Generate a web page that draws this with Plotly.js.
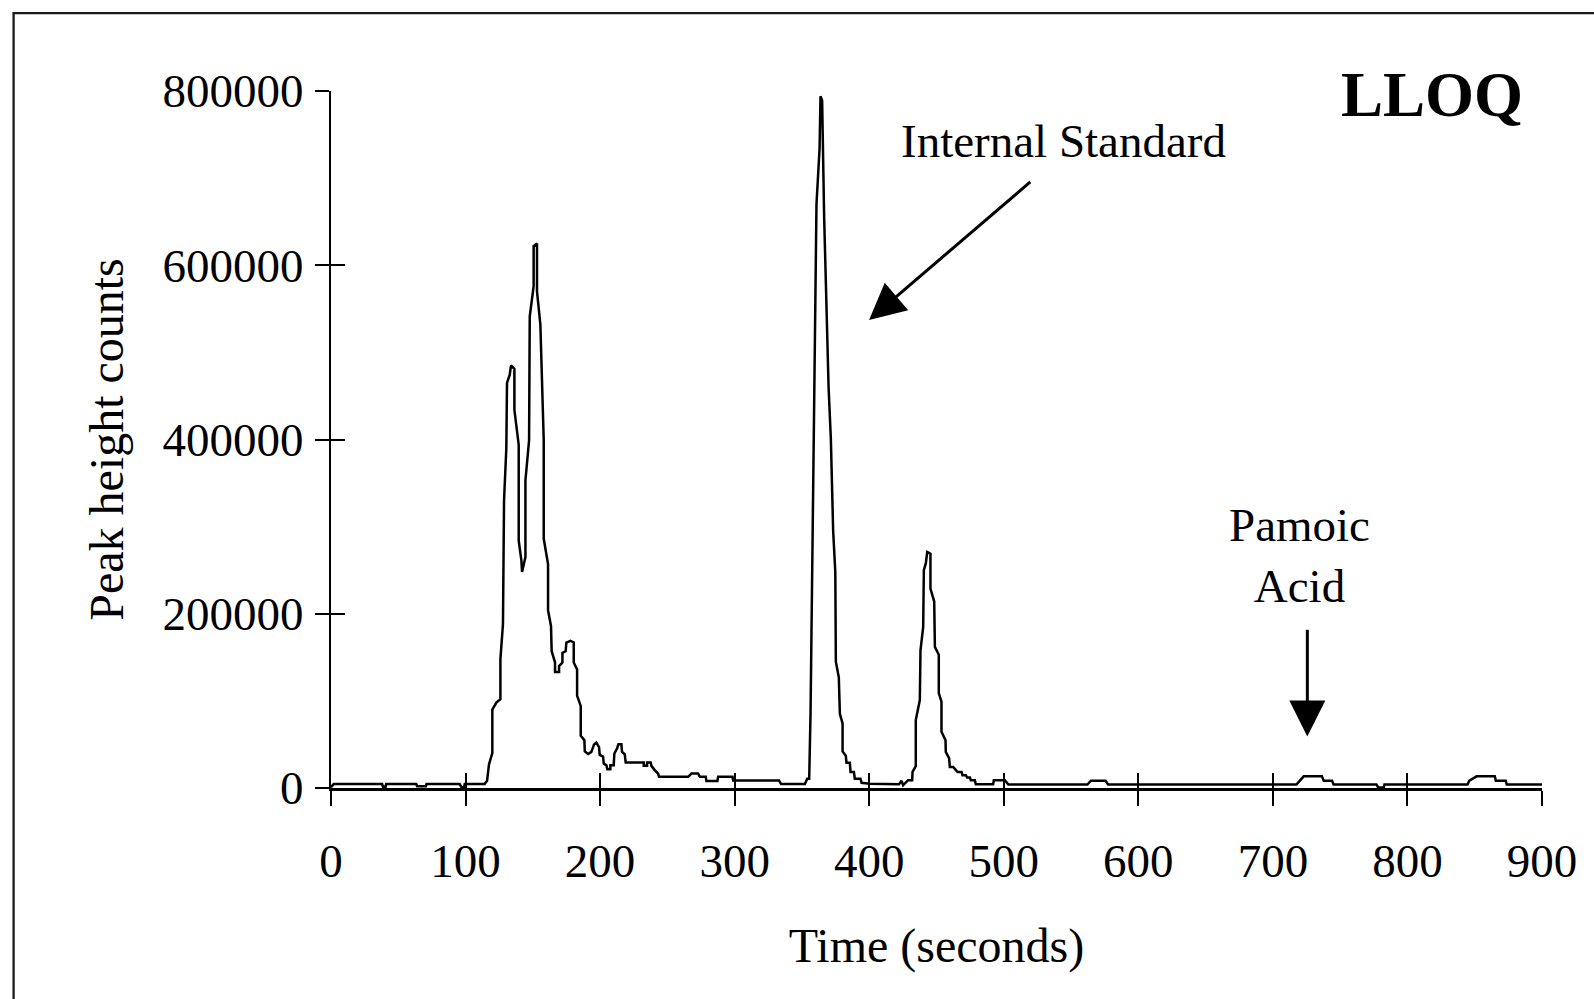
<!DOCTYPE html>
<html>
<head>
<meta charset="utf-8">
<script src="https://cdn.plot.ly/plotly-3.0.1.min.js"></script>
<style>
html, body { margin: 0; padding: 0; background: #ffffff; }
#chart { width: 1594px; height: 999px; }
</style>
</head>
<body>
<div id="chart"></div>
<script>
// ---- Data (time in seconds, peak height counts) ----
const timeSeconds = [
  0, 2, 38, 38.6, 40.6, 41, 63.4, 64, 70.5, 71, 95.6, 96.9, 98.9, 99.4, 114.2,
  116, 117.4, 119.9, 119.9, 122.9, 125.9, 125.9, 127.8, 128.6, 130.3, 130.8, 132.8, 133.8,
  136.3, 136.3, 139.5, 139.5, 141.5, 142, 144.5, 144.5, 147.2, 147.7, 150.6, 150.6, 153.1,
  153.1, 155.6, 158.1, 158.1, 161.3, 161.3, 163.5, 164, 166.5, 166.5, 169.5, 169.5, 172, 172,
  174.4, 174.9, 177.9, 180.4, 180.4, 182.9, 182.9, 185.6, 185.6, 188.3, 188.6, 191.1, 193.5,
  195.5, 197.2, 199.2, 199.7, 202.2, 202.7, 204.7, 205.4, 207.6, 207.6, 210.1, 210.6, 212.6,
  213.6, 215.8, 216.3, 218.3, 219, 232.4, 232.4, 234.9, 234.9, 237.6, 238.1, 240.6, 243.1,
  243.8, 265.4, 267.9, 272.8, 274.1, 278.5, 279, 287.2, 287.7, 298.4, 298.9, 333, 334.5, 352.2,
  353.9, 355.4, 356.4, 357.9, 359.1, 360.8, 363.1, 363.8, 365, 366.5, 369.8, 371.5, 373.2,
  374.8, 375.2, 377.4, 378.2, 380.2, 380.2, 382.6, 383.1, 385.6, 386.1, 388.6, 389.3, 393.5,
  394.3, 400.5, 422.2,
  424, 425.2, 428.9, 431.9, 432.2, 434.6, 434.6, 437.6, 438.1, 440.1, 440.6, 442.1, 443.1,
  445.5, 445.5, 448.3, 448.8, 451.7, 451.7, 453.7, 453.7, 456.7, 456.9, 459.4, 459.9, 462.4,
  465.6, 468.6, 469.3, 471.8, 472.8, 474.8, 475.5, 478.5, 479.2, 492.1, 492.6, 500.8, 503.4,
  562.1, 564.8, 575.6, 577.5, 717.5, 719.7, 722.9, 736.4, 737.8, 744, 745.1, 777, 778.3,
  782.4, 782.9, 844.6, 846, 851.4, 864.9, 865.7, 873, 873.8, 900
];
const peakCounts = [
  1000, 4500, 4500, 1500, 1500, 4500, 4500, 2000, 2000, 4500, 4500, 1000, 1000, 4500, 4500,
  8300, 27000, 40000, 90000, 98000, 102000, 148000, 188000, 330000, 390000, 465000, 474000, 485000,
  481000, 434000, 394000, 284000, 261000, 248000, 265000, 353000, 399000, 541000, 576000, 622000, 625000,
  570000, 532000, 399000, 286000, 257000, 204000, 186000, 157000, 144000, 133000, 133000, 140000, 144000, 155000,
  157000, 167000, 169000, 167000, 144000, 136000, 106000, 94000, 60000, 55000, 42000, 39000, 41500,
  50000, 52000, 47000, 38000, 36000, 28000, 26000, 21500, 21500, 26000, 26000, 39600, 45400,
  50300, 50300, 41500, 38800, 29300, 29300, 25400, 25400, 29300, 29300, 25400, 20500, 16600,
  12800, 12800, 16600, 16600, 12800, 12800, 8000, 8000, 12800, 12800, 8500, 8500, 4500, 4500,
  10600, 10600, 87000, 269000, 430000, 670000, 734000, 794000, 789000, 655000, 460000, 400000, 295000,
  248000, 145000, 127000, 85000, 74000, 42000, 37000, 29000, 29000, 18500, 18500, 10600, 10600,
  6000, 5000, 4400,
  8200, 3200, 9000, 9000, 18500, 25000, 78000, 101000, 158000, 185000, 250000, 258000, 271000,
  269000, 229000, 214000, 162000, 153000, 109000, 99000, 64500, 55000, 41500, 34000, 24200, 24200,
  18500, 18500, 14700, 14700, 12000, 12000, 9000, 9000, 4400, 4400, 9000, 9000, 4000,
  4000, 8400, 8400, 4000, 4000, 8000, 13400, 13400, 8400, 8400, 4000, 4000, 500,
  500, 4000, 4000, 8400, 13400, 13400, 8400, 8400, 4000, 4000
];
const xTickValues = [0, 100, 200, 300, 400, 500, 600, 700, 800, 900];
const yTickValues = [0, 200000, 400000, 600000, 800000];
const xTitle = 'Time (seconds)';
const yTitle = 'Peak height counts';
const sampleLabel = 'LLOQ';
const internalStandardLabel = 'Internal Standard';
const analyteLabel = 'Pamoic<br>Acid';

const serif = 'Liberation Serif, Times New Roman, serif';
const black = '#000000';

const traces = [
  {
    type: 'scatter', mode: 'lines',
    x: timeSeconds, y: peakCounts,
    line: { color: black, width: 2.5, shape: 'linear' },
    hoverinfo: 'skip', showlegend: false,
    xaxis: 'x', yaxis: 'y'
  },
  // empty trace so the overlay axes (which draw the inner half of the crossing ticks) exist
  {
    type: 'scatter', mode: 'lines', x: [], y: [],
    hoverinfo: 'skip', showlegend: false,
    xaxis: 'x2', yaxis: 'y2'
  }
];

const tickFont = { family: serif, size: 47, color: black };

const layout = {
  width: 1594, height: 999,
  margin: { l: 331, r: 52, t: 91, b: 211, pad: 0 },
  paper_bgcolor: '#ffffff', plot_bgcolor: '#ffffff',
  showlegend: false,
  font: { family: serif, color: black },
  xaxis: {
    range: [0, 900], tickvals: xTickValues, ticktext: xTickValues.map(String),
    ticks: 'outside', ticklen: 15, tickwidth: 2, tickcolor: black,
    showline: true, linewidth: 3, linecolor: black,
    showgrid: false, zeroline: false, fixedrange: true,
    tickfont: tickFont, ticklabelstandoff: 15,
    title: { text: xTitle, font: { family: serif, size: 48, color: black }, standoff: 42 },
    anchor: 'y'
  },
  yaxis: {
    range: [0, 800000], tickvals: yTickValues, ticktext: yTickValues.map(String),
    ticks: 'outside', ticklen: 14, tickwidth: 2, tickcolor: black,
    showline: true, linewidth: 2, linecolor: black,
    showgrid: false, zeroline: false, fixedrange: true,
    tickfont: tickFont, ticklabelstandoff: 2,
    title: { text: yTitle, font: { family: serif, size: 48, color: black }, standoff: 24 },
    anchor: 'x'
  },
  xaxis2: {
    overlaying: 'x', anchor: 'y2', range: [0, 900], tickvals: xTickValues,
    ticks: 'inside', ticklen: 15, tickwidth: 2, tickcolor: black,
    showticklabels: false, showline: false, showgrid: false, zeroline: false, fixedrange: true
  },
  yaxis2: {
    overlaying: 'y', anchor: 'x2', range: [0, 800000], tickvals: yTickValues,
    ticks: 'inside', ticklen: 14, tickwidth: 2, tickcolor: black,
    showticklabels: false, showline: false, showgrid: false, zeroline: false, fixedrange: true
  },
  shapes: [
    {
      type: 'rect', xref: 'paper', yref: 'paper',
      x0: -0.2621, x1: 1.2, y0: -0.5, y1: 1.1117,
      line: { color: '#1a1a1a', width: 2.3 }, fillcolor: 'rgba(0,0,0,0)', layer: 'below'
    }
  ],
  annotations: [
    {
      xref: 'paper', yref: 'paper', x: 0.9095, y: 0.9944, xanchor: 'center', yanchor: 'middle',
      text: '<b>' + sampleLabel + '</b>', showarrow: false,
      font: { family: serif, size: 63, color: black }
    },
    {
      xref: 'paper', yref: 'paper', x: 0.6045, y: 0.9283, xanchor: 'center', yanchor: 'middle',
      text: internalStandardLabel, showarrow: false,
      font: { family: serif, size: 47, color: black }
    },
    {
      xref: 'paper', yref: 'paper', x: 0.7995, y: 0.333, xanchor: 'center', yanchor: 'middle',
      text: analyteLabel, showarrow: false, align: 'center',
      font: { family: serif, size: 47, color: black }
    },
    {
      xref: 'x', yref: 'y', axref: 'x', ayref: 'y',
      x: 399.9, y: 537200, ax: 520.8, ay: 697100,
      text: '', showarrow: true, arrowhead: 2, arrowsize: 2.4, arrowwidth: 3,
      arrowcolor: black, standoff: 0, startstandoff: 0
    },
    {
      xref: 'x', yref: 'y', axref: 'x', ayref: 'y',
      x: 725.6, y: 59000, ax: 725.6, ay: 183300,
      text: '', showarrow: true, arrowhead: 2, arrowsize: 2.4, arrowwidth: 3,
      arrowcolor: black, standoff: 0, startstandoff: 0
    }
  ]
};

Plotly.newPlot('chart', traces, layout, { staticPlot: true, displayModeBar: false });
</script>
</body>
</html>
